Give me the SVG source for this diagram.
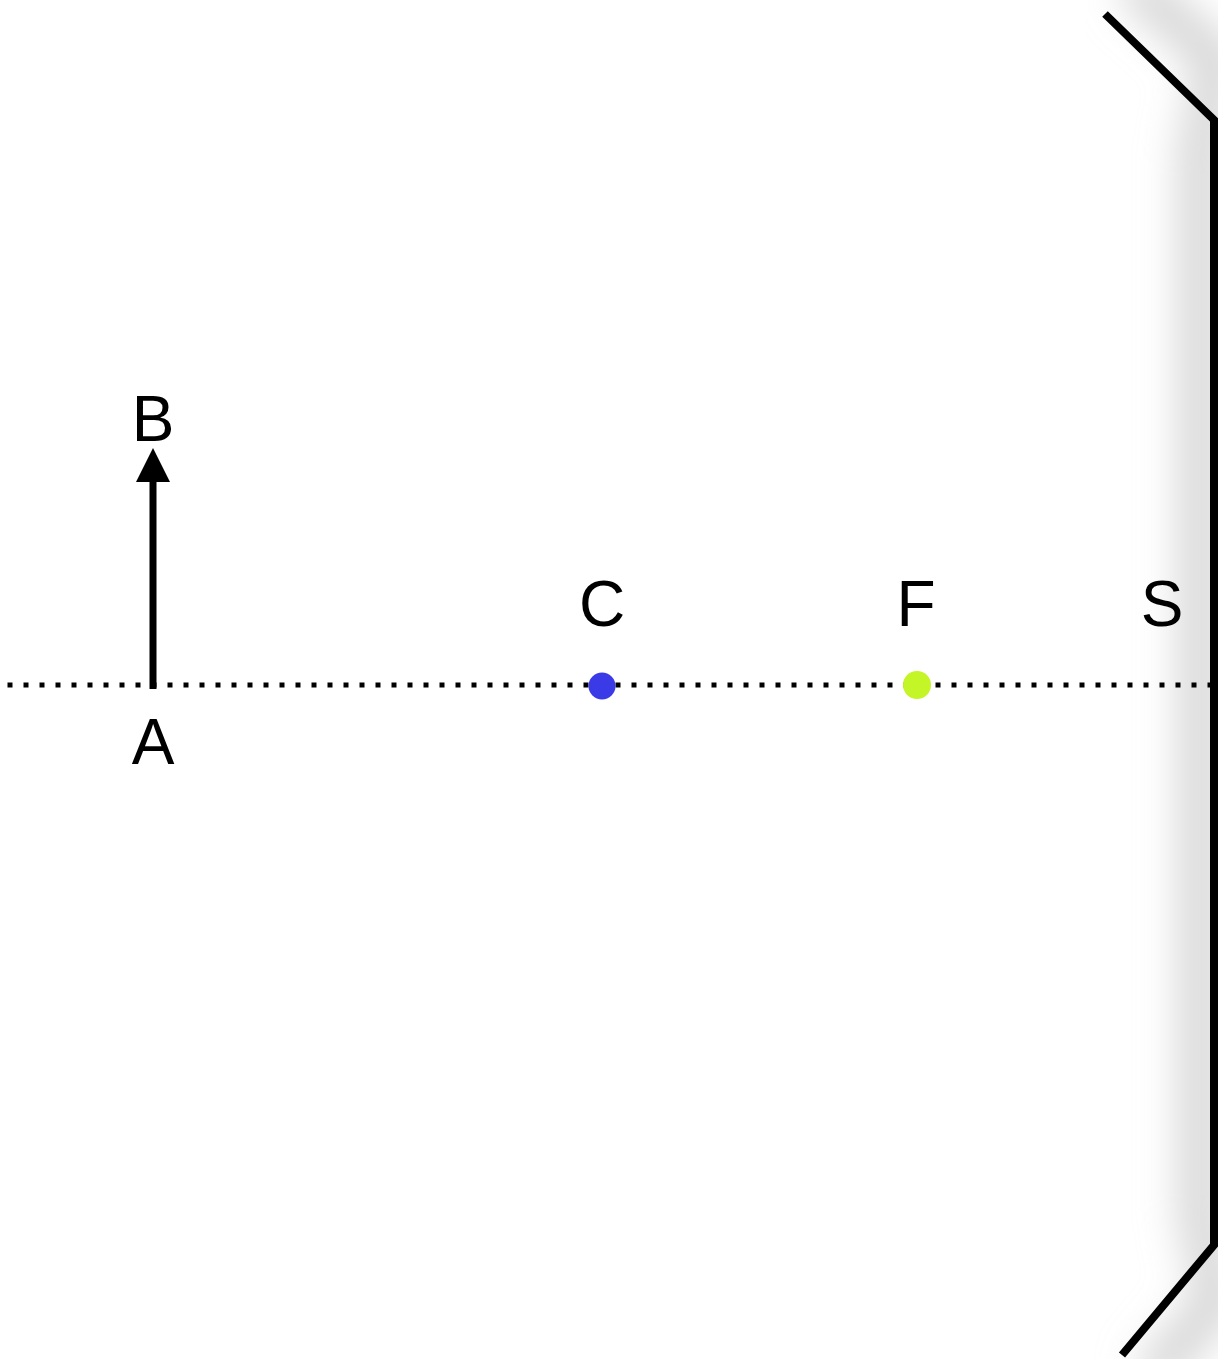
<svg xmlns="http://www.w3.org/2000/svg" width="1218" height="1359" viewBox="0 0 1218 1359">
<defs>
<style>
.lbl{font-family:"Liberation Sans",Arial,sans-serif;font-size:64px;fill:#000;text-anchor:middle}
.mirror{fill:none;stroke:#000;stroke-width:8;stroke-linejoin:miter}
</style>
<filter id="blur" x="-50%" y="-10%" width="200%" height="120%"><feGaussianBlur stdDeviation="20"/></filter>
</defs>
<rect width="1218" height="1359" fill="#fff"/>
<g id="mirror-shadow" filter="url(#blur)">
<path d="M1130,-20 L1218,60 L1200,150 L1200,1220 L1218,1300 L1150,1380" fill="none" stroke="#d4d4d4" stroke-width="40"/>
</g>
<g id="axis">
<line x1="7.5" y1="685" x2="1212" y2="685" stroke="#000" stroke-width="5" stroke-dasharray="5 11"/>
</g>
<g id="mirror">
<path class="mirror" d="M1105,14 L1214,120 L1214,1245 L1122,1355"/>
</g>
<g id="object">
<line x1="153" y1="689" x2="153" y2="478" stroke="#000" stroke-width="7"/>
<polygon points="153,448 136,482 170,482" fill="#000"/>
</g>
<g id="point-C"><circle cx="602" cy="686" r="13.5" fill="#3a3ae6"/></g>
<g id="point-F"><circle cx="917" cy="685" r="14" fill="#c3f527"/></g>
<g id="labels">
<text class="lbl" x="153" y="441">B</text>
<text class="lbl" x="153" y="764">A</text>
<text class="lbl" x="602" y="626">C</text>
<text class="lbl" x="916" y="626">F</text>
<text class="lbl" x="1162" y="626">S</text>
</g>
</svg>
